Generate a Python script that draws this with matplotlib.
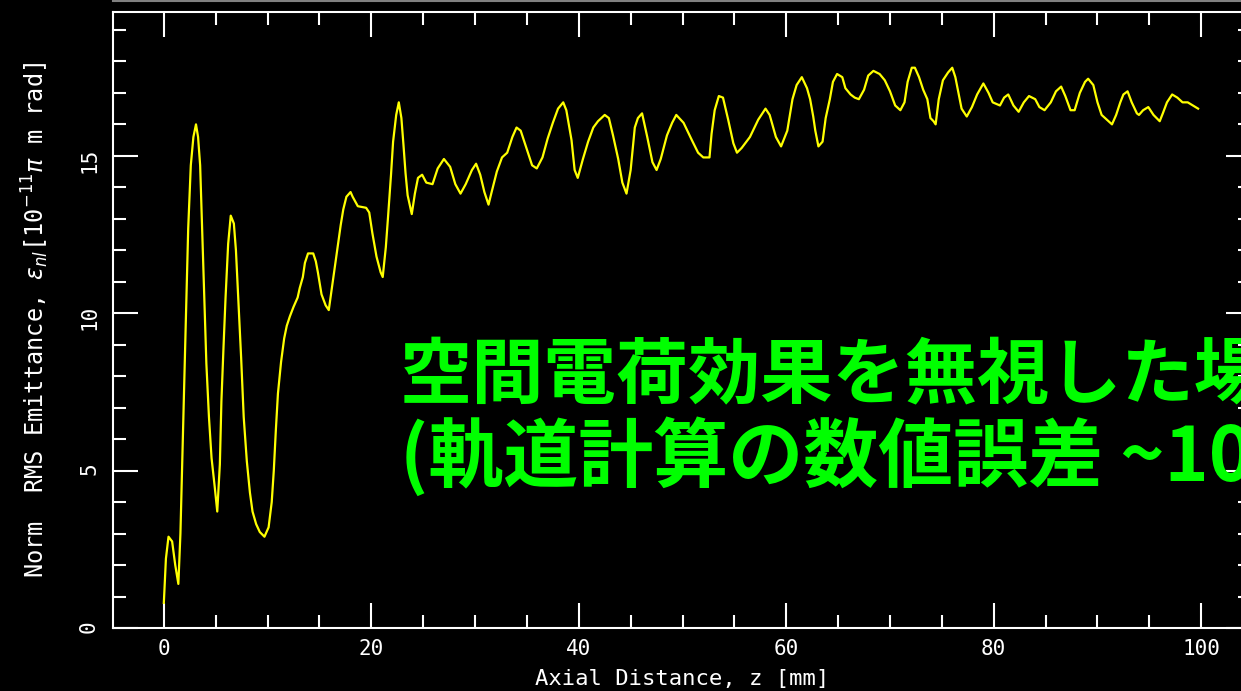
import matplotlib
matplotlib.use("Agg")
import matplotlib.pyplot as plt
from matplotlib.lines import Line2D
from matplotlib.ticker import MultipleLocator

# Normalized RMS emittance along the beam axis (no space charge)
z_mm = [
    0.0, 0.2, 0.45, 0.8, 1.1, 1.4, 1.6, 1.85, 2.1, 2.35, 2.6, 2.85, 3.1, 3.3, 3.5,
    3.65, 3.9, 4.1, 4.35, 4.6, 4.9, 5.15, 5.4, 5.55, 5.75, 5.95, 6.2, 6.45, 6.75,
    6.95, 7.2, 7.45, 7.7, 8.0, 8.3, 8.55, 8.9, 9.25, 9.7, 10.1, 10.4, 10.6, 10.8,
    11.0, 11.3, 11.6, 11.85, 12.15, 12.5, 12.9, 13.1, 13.4, 13.6, 13.9, 14.4,
    14.65, 14.85, 15.2, 15.6, 15.9, 16.2, 16.5, 16.75, 17.05, 17.3, 17.6, 18.0,
    18.2, 18.7, 19.5, 19.8, 20.1, 20.5, 20.9, 21.1, 21.4, 21.6, 21.9, 22.1, 22.4,
    22.65, 22.9, 23.1, 23.3, 23.5, 23.9, 24.2, 24.5, 24.9, 25.3, 25.9, 26.4, 27.0,
    27.6, 28.1, 28.6, 29.1, 29.7, 30.1, 30.5, 30.9, 31.3, 31.6, 32.1, 32.6, 33.1,
    33.6, 34.0, 34.4, 35.0, 35.5, 35.95, 36.5, 37.0, 37.5, 38.0, 38.5, 38.8, 39.3,
    39.6, 39.9, 40.4, 40.9, 41.4, 41.85, 42.5, 42.9, 43.3, 43.8, 44.2, 44.6, 45.0,
    45.4, 45.7, 46.1, 46.6, 47.1, 47.5, 47.9, 48.5, 49.0, 49.4, 50.1, 50.9, 51.5,
    52.0, 52.6, 52.8, 53.1, 53.5, 53.9, 54.4, 54.9, 55.25, 55.7, 56.5, 57.3, 58.0,
    58.4, 59.0, 59.5, 60.1, 60.6, 61.0, 61.5, 62.0, 62.3, 62.6, 62.8, 63.1, 63.5,
    63.8, 64.2, 64.5, 64.9, 65.4, 65.7, 66.2, 66.6, 67.0, 67.5, 67.9, 68.4, 69.0,
    69.5, 70.0, 70.5, 71.0, 71.4, 71.7, 72.1, 72.4, 72.8, 73.2, 73.6, 73.9, 74.2,
    74.4, 74.7, 75.1, 75.6, 76.0, 76.3, 76.6, 76.9, 77.4, 77.9, 78.4, 79.0, 79.5,
    79.9, 80.6, 81.0, 81.4, 81.9, 82.4, 82.9, 83.4, 84.0, 84.4, 84.9, 85.5, 86.0,
    86.5, 86.9, 87.4, 87.8, 88.3, 88.8, 89.1, 89.6, 90.0, 90.4, 90.9, 91.4, 91.8,
    92.2, 92.5, 92.9, 93.3, 93.8, 94.0, 94.4, 94.9, 95.4, 96.0, 96.3, 96.7, 97.2,
    97.7, 98.2, 98.7, 99.2, 99.7,
]
emittance = [
    0.8, 2.2, 2.9, 2.75, 2.0, 1.4, 3.0, 6.3, 9.5, 12.7, 14.7, 15.6, 16.0, 15.6, 14.7,
    13.1, 10.5, 8.4, 6.7, 5.4, 4.5, 3.7, 5.2, 7.2, 8.9, 10.5, 12.2, 13.1, 12.85,
    12.0, 10.3, 8.6, 6.7, 5.3, 4.3, 3.7, 3.3, 3.05, 2.9, 3.2, 4.0, 5.0, 6.3,
    7.45, 8.45, 9.2, 9.6, 9.9, 10.2, 10.5, 10.8, 11.15, 11.6, 11.9, 11.9,
    11.65, 11.3, 10.6, 10.25, 10.1, 10.8, 11.5, 12.1, 12.8, 13.3, 13.7, 13.85,
    13.7, 13.4, 13.35, 13.2, 12.55, 11.8, 11.3, 11.15, 12.1, 13.0, 14.4, 15.45, 16.3,
    16.7, 16.2, 15.35, 14.45, 13.75, 13.15, 13.8, 14.3, 14.4, 14.15, 14.1, 14.6, 14.9,
    14.65, 14.1, 13.8, 14.1, 14.55, 14.75, 14.4, 13.85, 13.45, 13.85, 14.5, 14.95, 15.1,
    15.6, 15.9, 15.8, 15.2, 14.7, 14.6, 14.95, 15.55, 16.05, 16.5, 16.7, 16.45, 15.5,
    14.55, 14.3, 14.9, 15.45, 15.9, 16.1, 16.3, 16.2, 15.65, 14.9, 14.15, 13.8, 14.55,
    15.9, 16.2, 16.35, 15.6, 14.8, 14.55, 14.9, 15.65, 16.05, 16.3, 16.05, 15.5, 15.1,
    14.95, 14.95, 15.7, 16.45, 16.9, 16.85, 16.15, 15.4, 15.1, 15.25, 15.6, 16.15, 16.5,
    16.3, 15.6, 15.3, 15.8, 16.8, 17.25, 17.5, 17.15, 16.8, 16.25, 15.8, 15.3, 15.45,
    16.2, 16.8, 17.35, 17.6, 17.5, 17.15, 16.95, 16.85, 16.8, 17.1, 17.55, 17.7, 17.6,
    17.4, 17.05, 16.6, 16.45, 16.7, 17.35, 17.8, 17.8, 17.5, 17.1, 16.8, 16.2, 16.1,
    16.0, 16.8, 17.4, 17.65, 17.8, 17.5, 17.0, 16.5, 16.25, 16.55, 16.95, 17.3, 17.0,
    16.7, 16.6, 16.85, 16.95, 16.6, 16.4, 16.7, 16.9, 16.8, 16.55, 16.45, 16.7, 17.05,
    17.2, 16.9, 16.45, 16.45, 17.0, 17.35, 17.45, 17.25, 16.7, 16.3, 16.15, 16.0, 16.3,
    16.7, 16.95, 17.05, 16.7, 16.35, 16.3, 16.45, 16.55, 16.3, 16.1, 16.35, 16.7, 16.95,
    16.85, 16.7, 16.7, 16.6, 16.5,
]

note_lines = ["空間電荷効果を無視した場合", "(軌道計算の数値誤差 ~10%)"]

plt.rcParams['font.family'] = ['DejaVu Sans Mono']

fig = plt.figure(figsize=(12.41, 6.91), dpi=100, facecolor='black')
ax = fig.add_axes([113 / 1241, 63 / 691, 1138 / 1241, 616 / 691])
ax.set_facecolor('black')

ax.plot(z_mm, emittance, color='#FFFF00', lw=1.6)

ax.set_xlim(-4.9, 104.8)
ax.set_ylim(0, 19.57)
ax.xaxis.set_major_locator(MultipleLocator(20))
ax.xaxis.set_minor_locator(MultipleLocator(5))
ax.yaxis.set_major_locator(MultipleLocator(5))
ax.yaxis.set_minor_locator(MultipleLocator(1))

for sp in ax.spines.values():
    sp.set_color('white')
    sp.set_linewidth(1.5)

ax.tick_params(which='both', direction='in', top=True, right=True,
               colors='white', width=1.5)
ax.tick_params(which='major', length=18)
ax.tick_params(which='minor', length=9.5)
ax.tick_params(axis='x', labelsize=15, pad=8)
ax.tick_params(axis='y', labelsize=15, pad=10, labelrotation=90)

ax.set_xlabel('Axial Distance, z [mm]', color='white', fontsize=16, labelpad=7)
ax.set_ylabel(r'Norm  RMS Emittance, $\varepsilon_{nl}$[10$^{-11}$$\pi$ m rad]',
              color='white', fontsize=17, labelpad=20)

# thin frame line along the top edge
fig.add_artist(Line2D([113 / 1241, 1.0], [0.9985, 0.9985], color='#808080',
                      lw=1.5, transform=fig.transFigure))

# overlaid annotation
cjk = ['Noto Sans CJK JP', 'DejaVu Sans']
fig.text(400 / 1241, 1 - 377 / 691, note_lines[0], color='#00FF00',
         fontsize=52, fontweight='bold', family=cjk, ha='left', va='center')
fig.text(400 / 1241, 1 - 457 / 691, note_lines[1], color='#00FF00',
         fontsize=54, fontweight='bold', family=cjk, ha='left', va='center')

fig.savefig('out.png', dpi=100, facecolor='black')
